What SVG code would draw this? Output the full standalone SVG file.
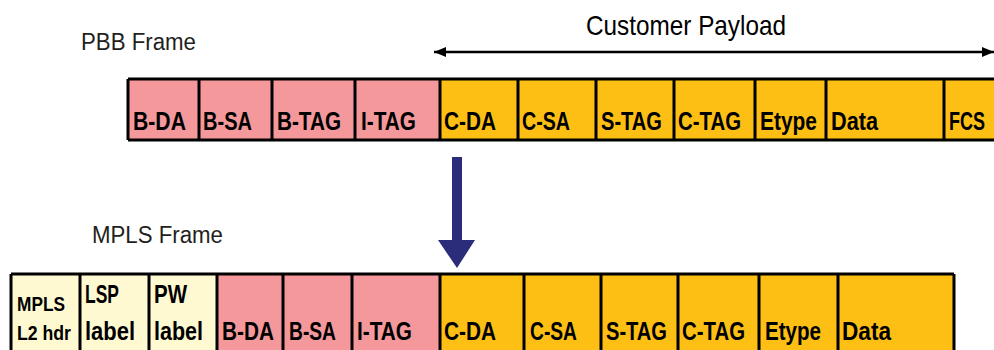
<svg xmlns="http://www.w3.org/2000/svg" width="994" height="350" viewBox="0 0 994 350">
<style>
.pink{fill:#f5989b}
.org{fill:#fdbf13}
.yel{fill:#fff9d2}
.ln{stroke:#000;stroke-width:3;fill:none}
.lbl{font-family:"Liberation Sans",Arial,sans-serif;font-weight:bold;font-size:26px;fill:#000}
.sm{font-size:21px}
.ttl{font-family:"Liberation Sans",Arial,sans-serif;font-size:23px;fill:#231f20}
</style>
<defs>
<marker id="ah" viewBox="0 0 12 10" refX="12" refY="5" markerWidth="12" markerHeight="10" markerUnits="userSpaceOnUse" orient="auto-start-reverse">
<path d="M0,0 L12,5 L0,10 Z" fill="#000"/>
</marker>
</defs>
<text class="ttl" x="81" y="50" textLength="115" lengthAdjust="spacingAndGlyphs">PBB Frame</text>
<text class="ttl" x="92" y="243" textLength="131" lengthAdjust="spacingAndGlyphs">MPLS Frame</text>
<text x="586" y="35" font-family="Liberation Sans,Arial,sans-serif" font-size="28" fill="#000" textLength="200" lengthAdjust="spacingAndGlyphs">Customer Payload</text>

<g id="connectors">
<line x1="434" y1="52" x2="994" y2="52" stroke="#000" stroke-width="2.5" marker-start="url(#ah)" marker-end="url(#ah)"/>
<path d="M452,157 H462 V240 H475 L457,268 L438,240 H452 Z" fill="#2b2d7a"/>
</g>

<g id="pbb-frame">
<rect class="pink" x="128" y="79" width="312" height="61"/>
<rect class="org" x="440" y="79" width="554" height="61"/>
<path class="ln" d="M128,79 H994 M128,140 H994 M128,79 V140 M199,79 V140 M272,79 V140 M355,79 V140 M440,79 V140 M518,79 V140 M596,79 V140 M674,79 V140 M755,79 V140 M826,79 V140 M944,79 V140"/>
<g id="p-bda"><text class="lbl" x="133" y="130" textLength="53" lengthAdjust="spacingAndGlyphs">B-DA</text></g>
<g id="p-bsa"><text class="lbl" x="203" y="130" textLength="49" lengthAdjust="spacingAndGlyphs">B-SA</text></g>
<g id="p-btag"><text class="lbl" x="277" y="130" textLength="64" lengthAdjust="spacingAndGlyphs">B-TAG</text></g>
<g id="p-itag"><text class="lbl" x="361" y="130" textLength="55" lengthAdjust="spacingAndGlyphs">I-TAG</text></g>
<g id="p-cda"><text class="lbl" x="444" y="130" textLength="52" lengthAdjust="spacingAndGlyphs">C-DA</text></g>
<g id="p-csa"><text class="lbl" x="522" y="130" textLength="48" lengthAdjust="spacingAndGlyphs">C-SA</text></g>
<g id="p-stag"><text class="lbl" x="601" y="130" textLength="61" lengthAdjust="spacingAndGlyphs">S-TAG</text></g>
<g id="p-ctag"><text class="lbl" x="678" y="130" textLength="63" lengthAdjust="spacingAndGlyphs">C-TAG</text></g>
<g id="p-etype"><text class="lbl" x="760" y="130" textLength="57" lengthAdjust="spacingAndGlyphs">Etype</text></g>
<g id="p-data"><text class="lbl" x="831" y="130" textLength="47" lengthAdjust="spacingAndGlyphs">Data</text></g>
<g id="p-fcs"><text class="lbl" x="949" y="130" textLength="36" lengthAdjust="spacingAndGlyphs">FCS</text></g>
</g>

<g id="mpls-frame">
<rect class="yel" x="11" y="274" width="206" height="78"/>
<rect class="pink" x="217" y="274" width="223" height="78"/>
<rect class="org" x="440" y="274" width="514" height="78"/>
<path class="ln" d="M11,274 H954 M11,274 V352 M80,274 V352 M149,274 V352 M217,274 V352 M283,274 V352 M352,274 V352 M440,274 V352 M524,274 V352 M601,274 V352 M678,274 V352 M759,274 V352 M838,274 V352 M954,274 V352"/>
<g id="m-l2"><text class="lbl sm" x="17" y="311" textLength="48" lengthAdjust="spacingAndGlyphs">MPLS</text><text class="lbl sm" x="17" y="340" textLength="54" lengthAdjust="spacingAndGlyphs">L2 hdr</text></g>
<g id="m-lsp"><text class="lbl" x="85" y="303" textLength="34" lengthAdjust="spacingAndGlyphs">LSP</text><text class="lbl" x="85" y="340" textLength="50" lengthAdjust="spacingAndGlyphs">label</text></g>
<g id="m-pw"><text class="lbl" x="154" y="303" textLength="33" lengthAdjust="spacingAndGlyphs">PW</text><text class="lbl" x="154" y="340" textLength="49" lengthAdjust="spacingAndGlyphs">label</text></g>
<g id="m-bda"><text class="lbl" x="222" y="340" textLength="52" lengthAdjust="spacingAndGlyphs">B-DA</text></g>
<g id="m-bsa"><text class="lbl" x="289" y="340" textLength="47" lengthAdjust="spacingAndGlyphs">B-SA</text></g>
<g id="m-itag"><text class="lbl" x="357" y="340" textLength="55" lengthAdjust="spacingAndGlyphs">I-TAG</text></g>
<g id="m-cda"><text class="lbl" x="444" y="340" textLength="52" lengthAdjust="spacingAndGlyphs">C-DA</text></g>
<g id="m-csa"><text class="lbl" x="530" y="340" textLength="47" lengthAdjust="spacingAndGlyphs">C-SA</text></g>
<g id="m-stag"><text class="lbl" x="606" y="340" textLength="61" lengthAdjust="spacingAndGlyphs">S-TAG</text></g>
<g id="m-ctag"><text class="lbl" x="682" y="340" textLength="63" lengthAdjust="spacingAndGlyphs">C-TAG</text></g>
<g id="m-etype"><text class="lbl" x="765" y="340" textLength="56" lengthAdjust="spacingAndGlyphs">Etype</text></g>
<g id="m-data"><text class="lbl" x="842" y="340" textLength="49" lengthAdjust="spacingAndGlyphs">Data</text></g>
</g>
</svg>
